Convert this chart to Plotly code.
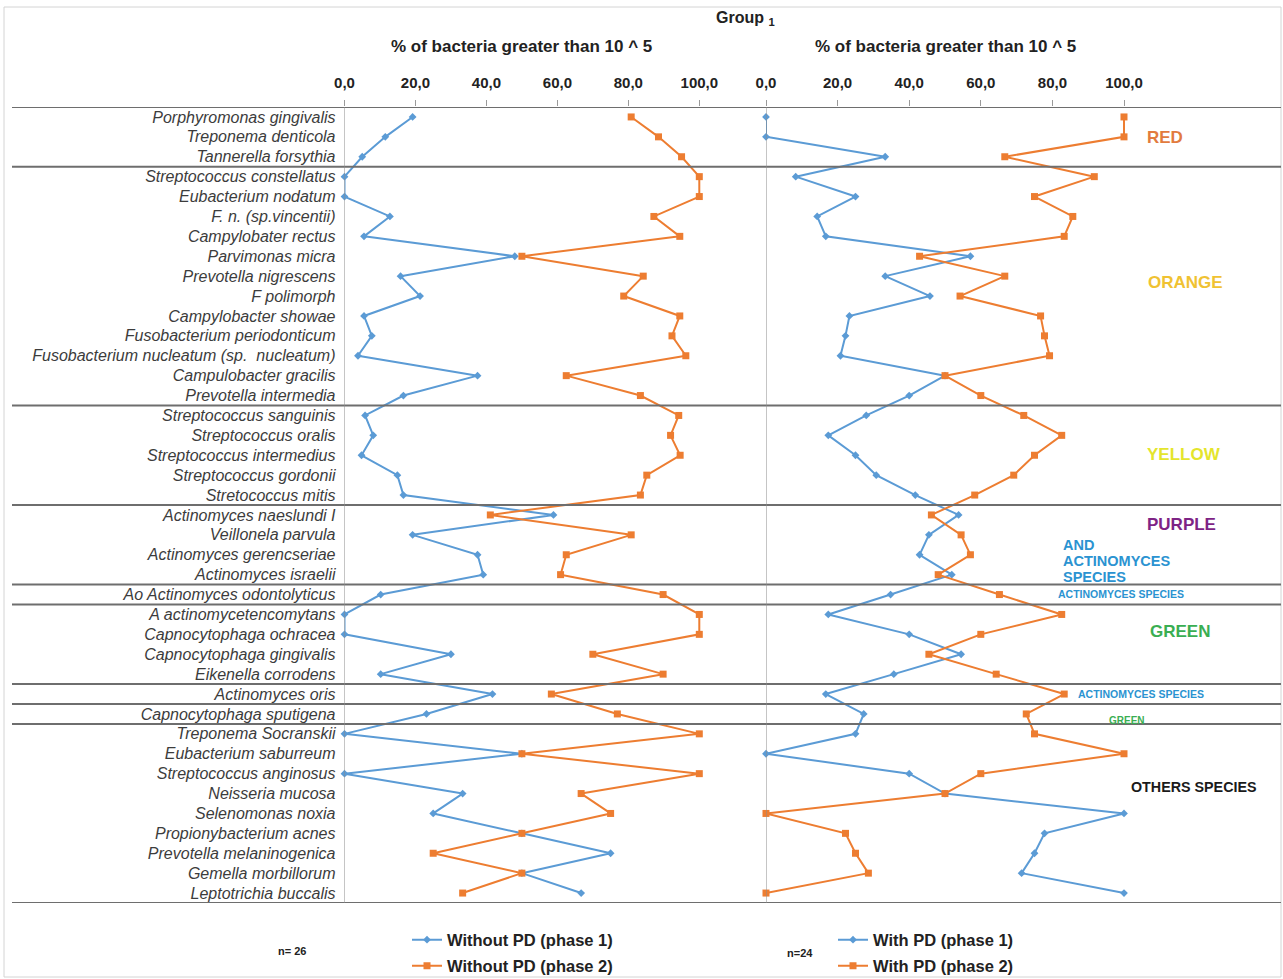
import plotly.graph_objects as go

W, H = 1283, 979

species = [
    "Porphyromonas gingivalis", "Treponema denticola", "Tannerella forsythia",
    "Streptococcus constellatus", "Eubacterium nodatum", "F. n. (sp.vincentii)",
    "Campylobater rectus", "Parvimonas micra", "Prevotella nigrescens",
    "F polimorph", "Campylobacter showae", "Fusobacterium periodonticum",
    "Fusobacterium nucleatum (sp.  nucleatum)", "Campulobacter gracilis",
    "Prevotella intermedia", "Streptococcus sanguinis", "Streptococcus oralis",
    "Streptococcus intermedius", "Streptococcus gordonii", "Stretococcus mitis",
    "Actinomyces naeslundi I", "Veillonela parvula", "Actinomyces gerencseriae",
    "Actinomyces israelii", "Ao Actinomyces odontolyticus",
    "A actinomycetencomytans", "Capnocytophaga ochracea",
    "Capnocytophaga gingivalis", "Eikenella corrodens", "Actinomyces oris",
    "Capnocytophaga sputigena", "Treponema Socranskii", "Eubacterium saburreum",
    "Streptococcus anginosus", "Neisseria mucosa", "Selenomonas noxia",
    "Propionybacterium acnes", "Prevotella melaninogenica",
    "Gemella morbillorum", "Leptotrichia buccalis",
]

# % of bacteria greater than 10^5
without_pd_phase1 = [19.2, 11.5, 5.0, 0.0, 0.0, 12.8, 5.5, 48.0, 15.8, 21.3,
                     5.5, 7.7, 3.8, 37.5, 16.6, 5.8, 8.1, 4.8, 14.9, 16.6,
                     58.9, 19.2, 37.5, 39.1, 10.2, 0.0, 0.0, 30.0, 10.2, 41.7,
                     23.1, 0.0, 50.0, 0.0, 33.3, 25.0, 50.0, 75.0, 50.0, 66.7]
without_pd_phase2 = [80.8, 88.5, 95.0, 100.0, 100.0, 87.2, 94.5, 50.0, 84.2, 78.7,
                     94.5, 92.3, 96.2, 62.5, 83.4, 94.2, 91.9, 94.6, 85.2, 83.4,
                     41.1, 80.8, 62.5, 60.9, 89.8, 100.0, 100.0, 70.0, 89.8, 58.3,
                     76.9, 100.0, 50.0, 100.0, 66.7, 75.0, 50.0, 25.0, 50.0, 33.3]
with_pd_phase1 = [0.0, 0.0, 33.3, 8.3, 25.0, 14.3, 16.7, 57.1, 33.3, 45.8,
                  23.3, 22.2, 20.8, 50.0, 40.0, 28.0, 17.4, 25.0, 30.8, 41.7,
                  53.8, 45.5, 42.9, 51.9, 34.8, 17.4, 40.0, 54.5, 35.7, 16.7,
                  27.3, 25.0, 0.0, 40.0, 50.0, 100.0, 77.8, 75.0, 71.4, 100.0]
with_pd_phase2 = [100.0, 100.0, 66.7, 91.7, 75.0, 85.7, 83.3, 42.9, 66.7, 54.2,
                  76.7, 77.8, 79.2, 50.0, 60.0, 72.0, 82.6, 75.0, 69.2, 58.3,
                  46.2, 54.5, 57.1, 48.1, 65.2, 82.6, 60.0, 45.5, 64.3, 83.3,
                  72.7, 75.0, 100.0, 60.0, 50.0, 0.0, 22.2, 25.0, 28.6, 0.0]

# number of species in each consecutive complex block (separator after each)
block_sizes = [3, 12, 5, 4, 1, 4, 1, 1, 9]

tick_values = [0, 20, 40, 60, 80, 100]
axis_title = "% of bacteria greater than 10 ^ 5"

BLUE = "#5B9BD5"
ORANGE = "#ED7D31"
FONT = "Liberation Sans, Arial, sans-serif"


def px(x):
    return x / W


def py(y):
    return 1 - y / H


# plot area geometry (pixels)
TOP, BOTTOM = 107, 903
L0, L_END = 344.5, 755
R0, R_END = 766, 1283
UNIT_L = 3.548   # px per percent, left panel
UNIT_R = 3.58    # px per percent, right panel

fig = go.Figure()


def add_pair(p1, p2, name1, name2, xa, leg1, leg2):
    fig.add_trace(go.Scatter(
        x=p1, y=species, xaxis=xa, yaxis="y", mode="lines+markers",
        name=name1, legend=leg1, cliponaxis=False,
        line=dict(color=BLUE, width=2),
        marker=dict(symbol="diamond", size=6, color=BLUE),
    ))
    fig.add_trace(go.Scatter(
        x=p2, y=species, xaxis=xa, yaxis="y", mode="lines+markers",
        name=name2, legend=leg2, cliponaxis=False,
        line=dict(color=ORANGE, width=2),
        marker=dict(symbol="square", size=7, color=ORANGE),
    ))


add_pair(without_pd_phase1, without_pd_phase2,
         "Without PD (phase 1)", "Without PD (phase 2)", "x", "legend", "legend2")
add_pair(with_pd_phase1, with_pd_phase2,
         "With PD (phase 1)", "With PD (phase 2)", "x2", "legend3", "legend4")

n = len(species)

xaxis_common = dict(
    side="top", anchor="y", tickmode="array", tickvals=tick_values,
    tickformat=".1f", ticks="outside", ticklen=6, tickcolor="#9a9a9a",
    showgrid=False, zeroline=False, showline=False, automargin=False,
    tickfont=dict(family=FONT, size=15, color="#222", weight="bold"),
    ticklabelstandoff=6, fixedrange=True,
)

fig.update_layout(
    template="none",
    width=W, height=H,
    margin=dict(l=0, r=0, t=0, b=0, pad=0, autoexpand=False),
    paper_bgcolor="white", plot_bgcolor="white",
    separators=",.",
    font=dict(family=FONT),
    xaxis=dict(domain=[px(L0), px(L_END)], range=[0, (L_END - L0) / UNIT_L],
               **xaxis_common),
    xaxis2=dict(domain=[px(R0), px(R_END)], range=[0, (R_END - R0) / UNIT_R],
                **xaxis_common),
    yaxis=dict(
        domain=[py(BOTTOM), py(TOP)], type="category",
        categoryorder="array", categoryarray=species,
        tickmode="array", tickvals=species,
        range=[n - 0.5, -0.5], anchor="x", automargin=False,
        showgrid=False, zeroline=False, showline=False, ticks="",
        tickfont=dict(family=FONT, size=16, color="#3c3c3c", style="italic"),
        ticklabelstandoff=8, fixedrange=True,
    ),
    showlegend=True,
)

legend_style = dict(
    xanchor="left", yanchor="middle", xref="container", yref="container",
    bgcolor="rgba(0,0,0,0)",
    font=dict(family=FONT, size=16.5, color="#222", weight="bold"),
    itemwidth=30, borderwidth=0,
)
fig.update_layout(
    legend=dict(x=px(407), y=py(940), **legend_style),
    legend2=dict(x=px(407), y=py(966), **legend_style),
    legend3=dict(x=px(833), y=py(940), **legend_style),
    legend4=dict(x=px(833), y=py(966), **legend_style),
)

shapes = []
# outer frame
shapes.append(dict(type="rect", xref="paper", yref="paper",
                   x0=px(4), x1=px(1281), y0=py(977), y1=py(7),
                   line=dict(color="#d4d4d4", width=1)))
# block separators (top, between complexes, bottom)
bounds = [-0.5]
acc = 0
for s in block_sizes:
    acc += s
    bounds.append(acc - 0.5)
for b in bounds:
    shapes.append(dict(type="line", xref="paper", yref="y",
                       x0=px(12), x1=px(1281), y0=b, y1=b,
                       line=dict(color="#6e6e6e", width=2)))
# vertical zero lines of both panels
for xr in ("x", "x2"):
    shapes.append(dict(type="line", xref=xr, yref="y", x0=0, x1=0,
                       y0=-0.5, y1=n - 0.5,
                       line=dict(color="#8c8c8c", width=1)))

annotations = []


def label(text, x, y, size, color, xanchor="center", align="center"):
    annotations.append(dict(
        text=text, x=px(x), y=py(y), xref="paper", yref="paper",
        xanchor=xanchor, yanchor="middle", align=align, showarrow=False,
        font=dict(family=FONT, size=size, color=color, weight="bold"),
    ))


label("Group <sub>1</sub>", 745, 18, 16, "#222")
for xr in ("x", "x2"):
    annotations.append(dict(
        text=axis_title, x=50, y=py(47), xref=xr, yref="paper",
        xanchor="center", yanchor="middle", showarrow=False,
        font=dict(family=FONT, size=17, color="#222", weight="bold"),
    ))

label("RED", 1165, 138, 17, "#E27B3E")
label("ORANGE", 1185, 282, 17, "#F0C232")
label("YELLOW", 1184, 455, 17, "#E4E52C")
label("PURPLE", 1181, 524, 17, "#7E2385")
label("AND", 1061, 545, 14.5, "#2B93D1", xanchor="left")
label("ACTINOMYCES", 1061, 561, 14.5, "#2B93D1", xanchor="left")
label("SPECIES", 1061, 577, 14.5, "#2B93D1", xanchor="left")
label("ACTINOMYCES SPECIES", 1121, 594, 10.5, "#2B93D1")
label("GREEN", 1180, 631, 17, "#3AAE52")
label("ACTINOMYCES SPECIES", 1141, 694, 10.5, "#2B93D1")
label("GREEN", 1127, 720, 10, "#3AAE52")
label("OTHERS SPECIES", 1194, 787, 14.3, "#1a1a1a")
label("n= 26", 292, 951, 11, "#222")
label("n=24", 800, 953, 11, "#222")

fig.update_layout(shapes=shapes, annotations=annotations)

fig.write_html("out.html")
